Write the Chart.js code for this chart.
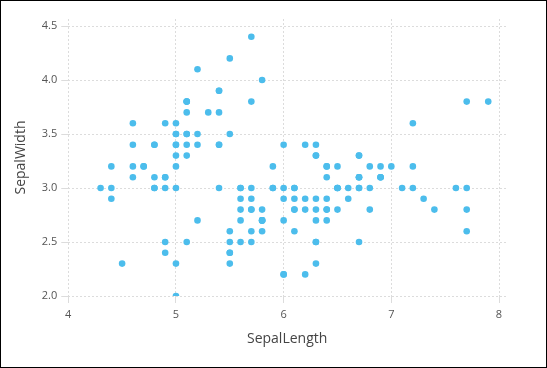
<!DOCTYPE html>
<html>
<head>
<meta charset="utf-8">
<script src="https://cdn.jsdelivr.net/npm/chart.js@4"></script>
<style>
  html, body { margin: 0; padding: 0; background: #fff; }
  #wrap { width: 547px; height: 368px; box-sizing: border-box; border: 1px solid #000; }
  canvas { display: block; }
</style>
</head>
<body>
<div id="wrap"><canvas id="chart" width="545" height="366"></canvas></div>
<script>
// iris: sepal length / sepal width
const sepalLength = [
  5.1,4.9,4.7,4.6,5.0,5.4,4.6,5.0,4.4,4.9,5.4,4.8,4.8,4.3,5.8,5.7,5.4,5.1,5.7,5.1,
  5.4,5.1,4.6,5.1,4.8,5.0,5.0,5.2,5.2,4.7,4.8,5.4,5.2,5.5,4.9,5.0,5.5,4.9,4.4,5.1,
  5.0,4.5,4.4,5.0,5.1,4.8,5.1,4.6,5.3,5.0,
  7.0,6.4,6.9,5.5,6.5,5.7,6.3,4.9,6.6,5.2,5.0,5.9,6.0,6.1,5.6,6.7,5.6,5.8,6.2,5.6,
  5.9,6.1,6.3,6.1,6.4,6.6,6.8,6.7,6.0,5.7,5.5,5.5,5.8,6.0,5.4,6.0,6.7,6.3,5.6,5.5,
  5.5,6.1,5.8,5.0,5.6,5.7,5.7,6.2,5.1,5.7,
  6.3,5.8,7.1,6.3,6.5,7.6,4.9,7.3,6.7,7.2,6.5,6.4,6.8,5.7,5.8,6.4,6.5,7.7,7.7,6.0,
  6.9,5.6,7.7,6.3,6.7,7.2,6.2,6.1,6.4,7.2,7.4,7.9,6.4,6.3,6.1,7.7,6.3,6.4,6.0,6.9,
  6.7,6.9,5.8,6.8,6.7,6.7,6.3,6.5,6.2,5.9
];
const sepalWidth = [
  3.5,3.0,3.2,3.1,3.6,3.9,3.4,3.4,2.9,3.1,3.7,3.4,3.0,3.0,4.0,4.4,3.9,3.5,3.8,3.8,
  3.4,3.7,3.6,3.3,3.4,3.0,3.4,3.5,3.4,3.2,3.1,3.4,4.1,4.2,3.1,3.2,3.5,3.6,3.0,3.4,
  3.5,2.3,3.2,3.5,3.8,3.0,3.8,3.2,3.7,3.3,
  3.2,3.2,3.1,2.3,2.8,2.8,3.3,2.4,2.9,2.7,2.0,3.0,2.2,2.9,2.9,3.1,3.0,2.7,2.2,2.5,
  3.2,2.8,2.5,2.8,2.9,3.0,2.8,3.0,2.9,2.6,2.4,2.4,2.7,2.7,3.0,3.4,3.1,2.3,3.0,2.5,
  2.6,3.0,2.6,2.3,2.7,3.0,2.9,2.9,2.5,2.8,
  3.3,2.7,3.0,2.9,3.0,3.0,2.5,2.9,2.5,3.6,3.2,2.7,3.0,2.5,2.8,3.2,3.0,3.8,2.6,2.2,
  3.2,2.8,2.8,2.7,3.3,3.2,2.8,3.0,2.8,3.0,2.8,3.8,2.8,2.8,2.6,3.0,3.4,3.1,3.0,3.1,
  3.1,3.1,2.7,3.2,3.3,3.0,2.5,3.0,3.4,3.0
];
const xTicks = [4, 5, 6, 7, 8];
const yTicks = [2.0, 2.5, 3.0, 3.5, 4.0, 4.5];

const points = sepalLength.map((x, i) => ({ x: x, y: sepalWidth[i] }));

const gridOpts = { color: '#dcdcdc', tickLength: 7, drawTicks: true };
const borderOpts = { display: false, dash: [2, 2] };
const fontFamily = '"Open Sans", "Noto Sans", sans-serif';

new Chart(document.getElementById('chart'), {
  type: 'scatter',
  data: {
    datasets: [{
      data: points,
      backgroundColor: '#4cbdec',
      borderWidth: 0,
      pointRadius: 3.3,
      pointHoverRadius: 3.3
    }]
  },
  options: {
    responsive: false,
    animation: false,
    layout: { padding: { left: 8, right: 40, top: 18, bottom: 16 } },
    plugins: { legend: { display: false }, tooltip: { enabled: false } },
    scales: {
      x: {
        type: 'linear',
        min: 4,
        max: 8.065,
        grid: gridOpts,
        border: borderOpts,
        afterBuildTicks: (scale) => {
          scale.ticks = xTicks.map(v => ({ value: v }));
        },
        ticks: {
          color: '#555',
          font: { family: fontFamily, size: 11 },
          padding: 5,
          callback: (v) => String(v)
        },
        title: {
          display: true,
          text: 'SepalLength',
          color: '#444',
          font: { family: fontFamily, size: 14 },
          padding: { top: 4 }
        }
      },
      y: {
        type: 'linear',
        min: 2,
        max: 4.565,
        grid: gridOpts,
        border: borderOpts,
        afterBuildTicks: (scale) => {
          scale.ticks = yTicks.map(v => ({ value: v }));
        },
        ticks: {
          color: '#555',
          font: { family: fontFamily, size: 11 },
          padding: 4,
          callback: (v) => Number(v).toFixed(1)
        },
        title: {
          display: true,
          text: 'SepalWidth',
          color: '#444',
          font: { family: fontFamily, size: 14 },
          padding: { bottom: 8 }
        }
      }
    }
  }
});
</script>
</body>
</html>
